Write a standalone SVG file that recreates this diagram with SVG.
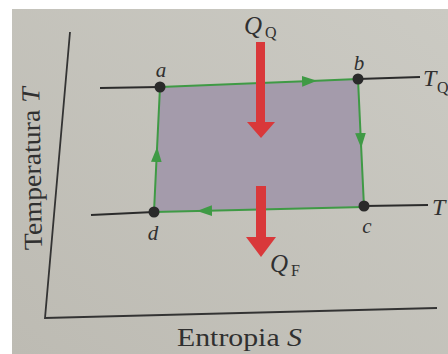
<svg xmlns="http://www.w3.org/2000/svg" width="448" height="354" viewBox="0 0 448 354">
  <defs>
    <linearGradient id="paper" x1="1" y1="0" x2="0" y2="1">
      <stop offset="0" stop-color="#cbcac3"/>
      <stop offset="1" stop-color="#bdbbb3"/>
    </linearGradient>
    <marker id="tri" viewBox="0 0 14 10" refX="14" refY="5" markerWidth="15" markerHeight="11" markerUnits="userSpaceOnUse" orient="auto">
      <path d="M0,0 L14,5 L0,10 Z" fill="#3f9a45"/>
    </marker>
  </defs>
  <style>
    .axis { stroke: #333333; stroke-width: 1.8; fill: none; }
    .iso { stroke: #2b2b2b; stroke-width: 2; fill: none; }
    .edge { stroke: #3f9a45; stroke-width: 2; fill: none; marker-mid: url(#tri); }
    .dot { fill: #2a2a2a; }
    .heat { fill: #d9383a; }
    .lbl { font-family: "Liberation Serif", "DejaVu Serif", serif; font-style: italic; fill: #303030; }
    .rom { font-family: "Liberation Serif", "DejaVu Serif", serif; fill: #303030; }
  </style>

  <rect x="0" y="0" width="448" height="354" fill="#ffffff"/>
  <rect x="12" y="9" width="436" height="345" fill="url(#paper)"/>

  <g id="axes">
    <path class="axis" d="M70,32 L45,318 L437,308"/>
    <text class="rom" font-size="26" transform="translate(42,250) rotate(-91)" textLength="163" lengthAdjust="spacingAndGlyphs">Temperatura <tspan font-style="italic">T</tspan></text>
    <text class="rom" font-size="25" x="177" y="346" textLength="125" lengthAdjust="spacingAndGlyphs">Entropia <tspan font-style="italic">S</tspan></text>
  </g>

  <g id="cycle-area">
    <polygon points="160,87 358,79 364,207 154,212" fill="#a49bab"/>
  </g>

  <g id="connectors">
    <path class="edge" d="M160,87 L317,80.7 L358,79"/>
    <path class="edge" d="M358,79 L361.2,148 L364,207"/>
    <path class="edge" d="M364,207 L197,211 L154,212"/>
    <path class="edge" d="M154,212 L157.1,147 L160,87"/>
    <path class="iso" d="M100,88 L160,87"/>
    <path class="iso" d="M358,79 L420,77"/>
    <path class="iso" d="M364,206 L428,205"/>
    <path class="iso" d="M91,215 L154,212"/>
  </g>

  <g id="isotherm-labels">
    <text class="lbl" font-size="24" x="423" y="86">T</text>
    <text class="rom" font-size="16" x="437" y="93">Q</text>
    <text class="lbl" font-size="24" x="432" y="215">T</text>
  </g>

  <g id="node-a">
    <circle class="dot" cx="160" cy="87" r="5.5"/>
    <text class="lbl" font-size="21" x="161" y="77" text-anchor="middle">a</text>
  </g>
  <g id="node-b">
    <circle class="dot" cx="358" cy="79" r="5.5"/>
    <text class="lbl" font-size="21" x="359" y="70" text-anchor="middle">b</text>
  </g>
  <g id="node-c">
    <circle class="dot" cx="364" cy="206" r="5.5"/>
    <text class="lbl" font-size="21" x="367" y="233" text-anchor="middle">c</text>
  </g>
  <g id="node-d">
    <circle class="dot" cx="154" cy="212" r="5.5"/>
    <text class="lbl" font-size="21" x="153" y="240" text-anchor="middle">d</text>
  </g>

  <g id="heat-in">
    <polygon class="heat" points="256,42 265,42 265,122 275,122 261,138 247,122 256,122"/>
    <text class="lbl" font-size="25" x="244" y="34">Q</text>
    <text class="rom" font-size="16" x="265" y="38">Q</text>
  </g>
  <g id="heat-out">
    <polygon class="heat" points="256,186 266,186 266,237 276,237 261,257 246,237 256,237"/>
    <text class="lbl" font-size="25" x="270" y="272">Q</text>
    <text class="rom" font-size="16" x="291" y="276">F</text>
  </g>
</svg>
